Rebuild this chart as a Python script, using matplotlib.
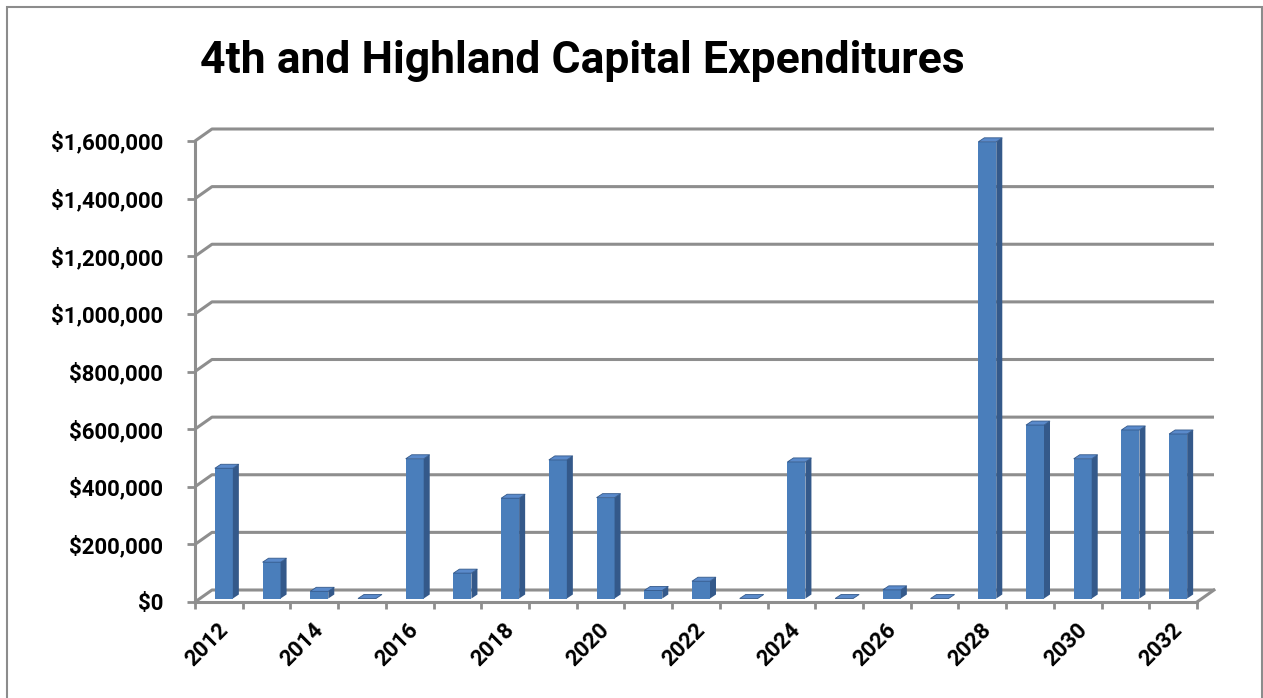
import matplotlib
matplotlib.use("Agg")
import matplotlib.pyplot as plt
from matplotlib.patches import Polygon, Rectangle
import matplotlib.transforms as mtransforms

plt.rcParams['font.family'] = ['Roboto', 'DejaVu Sans']

# veriler
years = list(range(2012, 2033))
values = [452000, 126000, 25000, 0, 485000, 88000, 348000, 481000, 350000, 28000,
          60000, 0, 474000, 0, 30000, 0, 1585000, 602000, 485000, 585000, 571000]
year_labels = [str(y) if y % 2 == 0 else "" for y in years]
y_ticks = [0, 200000, 400000, 600000, 800000, 1000000, 1200000, 1400000, 1600000]
y_labels = ["$0", "$200,000", "$400,000", "$600,000", "$800,000", "$1,000,000",
            "$1,200,000", "$1,400,000", "$1,600,000"]
title = "4th and Highland Capital Expenditures"

W, H = 1263, 698
fig = plt.figure(figsize=(W / 100, H / 100), dpi=100)

# cerceve
fig.patches.append(Rectangle((7 / W, -0.02), (1262 - 7) / W, (H - 7) / H + 0.02,
                             transform=fig.transFigure, fill=False,
                             edgecolor='#8c8c8c', linewidth=1.5))

ax_l, ax_r, ax_t, ax_b = 195, 1197, 141, 602
ax = fig.add_axes([ax_l / W, (H - ax_b) / H, (ax_r - ax_l) / W, (ax_b - ax_t) / H])
n = len(years)
ax.set_xlim(-0.5, n - 0.5)
ax.set_ylim(0, 1600000)

ux = n / (ax_r - ax_l)          # veri / piksel
uy = 1600000 / (ax_b - ax_t)
dx, dy = 17 * ux, 12 * uy       # derinlik kaydirmasi

grid_c = '#8e8e8e'
lw = 2.2

# arka duvar cizgileri
for v in y_ticks:
    ax.plot([-0.5, -0.5 + dx, n - 0.5 + dx], [v, v + dy, v + dy],
            color=grid_c, lw=lw, clip_on=False, zorder=1, solid_capstyle='butt')
# zemin sag kosegen
ax.plot([n - 0.5, n - 0.5 + dx], [0, dy], color=grid_c, lw=lw, clip_on=False, zorder=1)

# cubuklar
bx, by = 5 * ux, 3.5 * uy
bw = 18 * ux
sx, sy = 6 * ux, 4 * uy
front_c, side_c, top_c = '#4a7ebb', '#34598a', '#5a8acb'
xs = [i + bx for i in range(n)]
ax.bar(xs, values, width=bw, bottom=by, color=front_c, zorder=3, linewidth=0)
for x, v in zip(xs, values):
    xl, xr = x - bw / 2, x + bw / 2
    yb, yt = by, by + v
    if v > 0:
        ax.add_patch(Polygon([(xr, yb), (xr + sx, yb + sy), (xr + sx, yt + sy), (xr, yt)],
                             closed=True, facecolor=side_c, edgecolor='none', zorder=3,
                             clip_on=False))
    ax.add_patch(Polygon([(xl, yt), (xr, yt), (xr + sx, yt + sy), (xl + sx, yt + sy)],
                         closed=True, facecolor=top_c, edgecolor=side_c, linewidth=0.6,
                         zorder=3, clip_on=False))

# eksenler
for s in ['top', 'right']:
    ax.spines[s].set_visible(False)
for s in ['left', 'bottom']:
    ax.spines[s].set_color(grid_c)
    ax.spines[s].set_linewidth(lw)
    ax.spines[s].set_zorder(4)

ax.set_yticks(y_ticks)
ax.set_yticklabels(y_labels, fontsize=16, fontweight='bold')
ax.tick_params(axis='y', length=6, width=2, color=grid_c, pad=17)

ax.set_xticks(range(n))
ax.set_xticklabels(year_labels, fontsize=16, fontweight='bold', rotation=45,
                   ha='right', va='top', rotation_mode='anchor')
ax.tick_params(axis='x', which='major', length=0, pad=12)
ax.set_xticks([i - 0.5 for i in range(n + 1)], minor=True)
ax.tick_params(axis='x', which='minor', length=5, width=2, color=grid_c)
off = mtransforms.ScaledTranslation(-2 / 100, 0, fig.dpi_scale_trans)
for lab in ax.get_xticklabels():
    lab.set_transform(lab.get_transform() + off)

fig.text(200 / W, (H - 73) / H, title, fontsize=32, fontweight='bold', va='baseline')

fig.savefig("out.png", dpi=100)
